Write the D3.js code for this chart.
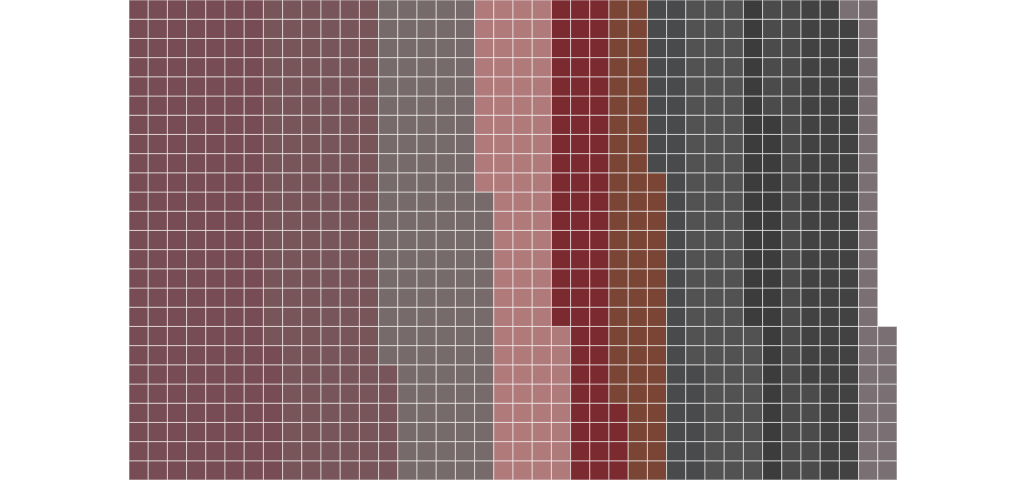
<!DOCTYPE html>
<html>
<head>
<meta charset="utf-8">
<script src="https://cdn.jsdelivr.net/npm/d3@7"></script>
<style>
  html, body { margin: 0; padding: 0; background: #ffffff; }
  svg { display: block; }
</style>
</head>
<body>
<svg id="chart" width="1026" height="480"></svg>
<script>
// Waffle data: number of unit cells per category, filled column by column, bottom to top
const categories = ["Category 1", "Category 2", "Category 3", "Category 4", "Category 5", "Category 6",
                    "Category 7", "Category 8", "Category 9", "Category 10", "Category 11", "Category 12"];
const cellCounts = [182, 149, 134, 93, 71, 62, 40, 77, 36, 36, 69, 34];
const colors = ["#774c55", "#775558", "#776a6a", "#b07a7b", "#7b2a30", "#7a4535",
                "#494a4b", "#525252", "#3c3c3c", "#4b4b4b", "#424242", "#7a7073"];
const gridRows = 25;
const gridCols = 40;

const W = 1026, H = 480;
const cell = H / gridRows;
const gridW = cell * gridCols;
const x0 = (W - gridW) / 2;

const svg = d3.select("#chart");

const x = d3.scaleBand().domain(d3.range(gridCols)).range([x0, x0 + gridW]).padding(0);
const y = d3.scaleBand().domain(d3.range(gridRows)).range([0, H]).padding(0);
const color = d3.scaleOrdinal().domain(categories).range(colors);

const cells = [];
let idx = 0;
categories.forEach((c, ci) => {
  for (let k = 0; k < cellCounts[ci]; k++) {
    const col = Math.floor(idx / gridRows);
    const rowFromBottom = idx % gridRows;
    cells.push({ cat: c, col: col, row: gridRows - 1 - rowFromBottom });
    idx++;
  }
});

svg.append("g")
  .selectAll("rect")
  .data(cells)
  .join("rect")
  .attr("x", d => x(d.col))
  .attr("y", d => y(d.row))
  .attr("width", x.bandwidth())
  .attr("height", y.bandwidth())
  .attr("fill", d => color(d.cat))
  .attr("stroke", "#ffffff")
  .attr("stroke-opacity", 0.55)
  .attr("stroke-width", 1);
</script>
</body>
</html>
